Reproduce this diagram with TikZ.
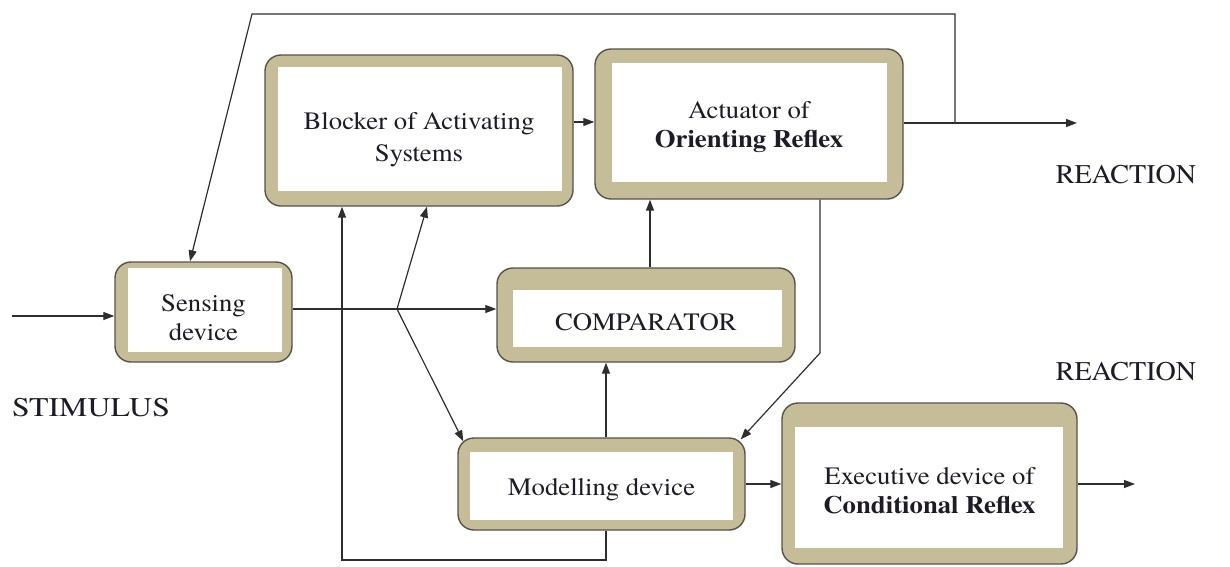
\documentclass[tikz,border=0pt]{standalone}
\usepackage{fontspec}
\setmainfont{texgyretermes}[Extension=.otf, UprightFont=*-regular, BoldFont=*-bold, ItalicFont=*-italic, BoldItalicFont=*-bolditalic]
\newfontfamily\wideserif{texgyretermes}[Extension=.otf, UprightFont=*-regular, BoldFont=*-bold, FakeStretch=1.07]
\usetikzlibrary{arrows.meta,calc}
\definecolor{khaki}{HTML}{C4BD97}
\definecolor{rim}{HTML}{55534A}
\definecolor{wirecol}{HTML}{2E2E2E}
\definecolor{ink}{HTML}{1E1A28}
\begin{document}
\begin{tikzpicture}[x=1pt,y=-1pt,
  % framed device: khaki rounded frame with a white panel inset by (left,top,right,bottom)
  device/.style n args={4}{draw=rim, line width=1.4pt, fill=khaki,
    rounded corners=16pt, inner sep=0pt,
    path picture={\fill[white,sharp corners]
      ([xshift=#1pt,yshift=-#2pt]path picture bounding box.north west) rectangle
      ([xshift=-#3pt,yshift=#4pt]path picture bounding box.south east);}},
  devtext/.style={font=\wideserif\fontsize{25}{29}\selectfont, text=ink, align=center, inner sep=0pt},
  caption/.style={font=\fontsize{27}{30}\selectfont, text=ink, inner sep=0pt},
  wire/.style={draw=wirecol, line width=1.2pt},
  arr/.style={wire, -{Triangle[length=11pt,width=8pt]}}
]
\useasboundingbox (0,0) rectangle (1230,566);

% devices
\node[device={13}{12}{11}{15}, minimum width=308pt, minimum height=151pt] (blk) at (419,130.5) {};
\node[device={17}{14}{16}{17}, minimum width=308pt, minimum height=150pt] (act) at (749,124) {};
\node[device={13}{6}{10}{10},  minimum width=177pt, minimum height=100pt] (sens) at (203.5,312) {};
\node[device={16}{22}{13}{15}, minimum width=298pt, minimum height=94pt]  (cmp) at (646,315) {};
\node[device={12}{14}{12}{10}, minimum width=287pt, minimum height=92pt]  (mdl) at (601.5,484) {};
\node[device={13}{24}{14}{16}, minimum width=295pt, minimum height=161pt] (exe) at (929.5,483.5) {};

% device captions
\node[devtext] (blk-t)  at ([yshift=-9pt]blk.center)  {Blocker of Activating\\[3pt]Systems};
\node[devtext] (act-t)  at ([yshift=-3pt]act.center)  {Actuator of\\\textbf{Orienting Reflex}};
\node[devtext] (sens-t) at ([yshift=-6pt]sens.center) {Sensing\\device};
\node[devtext] (cmp-t)  at ([yshift=-7pt]cmp.center)  {COMPARATOR};
\node[devtext] (mdl-t)  at ([yshift=-6pt]mdl.center)  {Modelling device};
\node[devtext] (exe-t)  at ([yshift=-7pt]exe.center)  {Executive device of\\\textbf{Conditional Reflex}};

% free labels
\node[caption] (stim-l) at (91,408)   {\scalebox{1.18}[1]{STIMULUS}};
\node[caption] (reac1)  at (1126,175) {\scalebox{1.04}[1]{REACTION}};
\node[caption] (reac2)  at (1126,372) {\scalebox{1.04}[1]{REACTION}};

% junctions and free ends
\coordinate (stim) at (12,316);
\coordinate (br)   at (397,309);
\coordinate (loop) at (342,560);
\coordinate (out)  at (1077,123);
\coordinate (fb)   at (955,123);
\coordinate (tl)   at (252,14);
\coordinate (bend) at (820,353);
\coordinate (out2) at (1135,484);

% stimulus in
\draw[arr] (stim) -- (stim -| sens.west);
% sensing device to comparator, with branches
\draw[wire] (br -| sens.east) -- (br);
\draw[arr] (br) -- (br -| cmp.west);
\draw[arr] (br) -- ([xshift=8pt]blk.south);
\draw[arr] (br) -- ([xshift=6pt,yshift=-4pt]mdl.north west);
% modelling device back to blocker
\draw[arr] ([xshift=4.5pt]mdl.south) |- (loop) -- (loop |- blk.south);
% modelling device to comparator
\draw[arr] ([xshift=4.5pt]mdl.north) -- ([xshift=4.5pt]mdl.north |- cmp.south);
% comparator to actuator
\draw[arr] ([xshift=4pt]cmp.north) -- ([xshift=4pt]cmp.north |- act.south);
% blocker to actuator
\draw[arr] ([yshift=8.5pt]blk.east) -- ([yshift=8.5pt]blk.east -| act.west);
% orienting reaction out, with feedback to the sensing device
\draw[arr] (act.east |- out) -- (out);
\draw[arr] (fb) |- (tl) -- ([xshift=-13.5pt]sens.north);
% actuator to modelling device
\draw[arr] (act.south -| bend) -- (bend) -- ([xshift=-5pt,yshift=-2pt]mdl.north east);
% modelling device to executive device
\draw[arr] (mdl.east) -- (mdl.east -| exe.west);
% conditional reaction out
\draw[arr] (exe.east |- out2) -- (out2);
\end{tikzpicture}
\end{document}
